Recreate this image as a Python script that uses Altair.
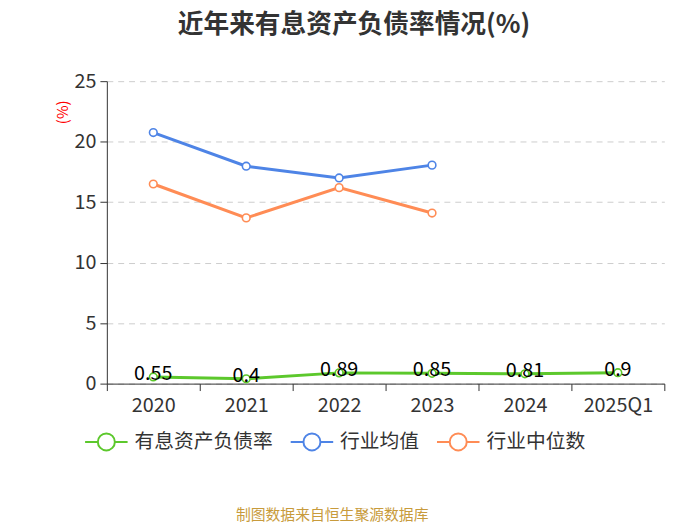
import altair as alt
import pandas as pd

years = ["2020", "2021", "2022", "2023", "2024", "2025Q1"]
ratio = [0.55, 0.4, 0.89, 0.85, 0.81, 0.9]
ind_mean_years = ["2020", "2021", "2022", "2023"]
ind_mean = [20.75, 17.97, 17.0, 18.06]
ind_median = [16.5, 13.7, 16.2, 14.1]
series_names = ["有息资产负债率", "行业均值", "行业中位数"]
colors = ["#5cc82c", "#4e84e6", "#ff8c55"]
y_ticks = [0, 5, 10, 15, 20, 25]

rows = []
for y, v in zip(years, ratio):
    rows.append({"year": y, "value": v, "series": series_names[0], "label": f"{v:g}"})
for y, v in zip(ind_mean_years, ind_mean):
    rows.append({"year": y, "value": v, "series": series_names[1], "label": ""})
for y, v in zip(ind_mean_years, ind_median):
    rows.append({"year": y, "value": v, "series": series_names[2], "label": ""})
df = pd.DataFrame(rows)

FONT = "Noto Sans CJK SC"
W, H = 564, 306

sym = "M-1,0H-0.4M0.4,0H1M0.4,0A0.4,0.4 0 1,1 -0.4,0A0.4,0.4 0 1,1 0.4,0Z"
cscale = alt.Scale(domain=series_names, range=colors)
legend = alt.Legend(title=None, orient="none", legendX=-23, legendY=342,
                    direction="horizontal", symbolType=sym, symbolSize=1849,
                    symbolFillColor="white", symbolStrokeWidth=2,
                    labelFontSize=20, labelColor="#333333", labelFont=FONT,
                    columnPadding=14, labelOffset=6, symbolOpacity=1)

x_enc = alt.X("year:N", sort=years, scale=alt.Scale(domain=years, paddingInner=0, paddingOuter=0),
              axis=alt.Axis(title=None, labelFontSize=20, labelColor="#333333", labelFont=FONT,
                            domainColor="#333333", tickColor="#333333", tickSize=7,
                            labelPadding=5, tickBand="extent", grid=False, labelAngle=0))
y_enc = alt.Y("value:Q", scale=alt.Scale(domain=[0, 25], nice=False),
              axis=alt.Axis(values=y_ticks, title="(%)", titleColor="#ff0000", titleFontSize=15,
                            titleFont=FONT, titleFontWeight="normal", titleAngle=-90,
                            titleX=-45, titleY=31, titleAlign="center", titleBaseline="middle",
                            labelFontSize=20, labelColor="#333333", labelFont=FONT,
                            domainColor="#333333", tickColor="#333333", tickSize=7, labelPadding=4,
                            grid=True, gridDash=[6, 5], gridColor="#cccccc"))

lines = alt.Chart(df).mark_line(strokeWidth=3).encode(
    x=x_enc, y=y_enc, color=alt.Color("series:N", sort=series_names, scale=cscale, legend=legend))
points = alt.Chart(df).mark_point(filled=False, fill="white", fillOpacity=1, size=60,
                                  strokeWidth=1.6, opacity=1).encode(
    x=alt.X("year:N", sort=years), y="value:Q",
    color=alt.Color("series:N", sort=series_names, scale=cscale, legend=legend))
labels = alt.Chart(df).transform_filter(alt.datum.label != "").mark_text(
    fontSize=20, font=FONT, color="#000000", dy=-3).encode(
    x=alt.X("year:N", sort=years), y="value:Q", text="label:N")

source = alt.Chart(pd.DataFrame({"t": ["制图数据来自恒生聚源数据库"]})).mark_text(
    fontSize=15, font=FONT, color="#c89b3c").encode(
    text="t:N", x=alt.value(228), y=alt.value(439))

chart = alt.layer(lines, points, labels, source).properties(
    width=W, height=H,
    title=alt.Title("近年来有息资产负债率情况(%)", fontSize=26, font=FONT, fontWeight="bold",
                    color="#333333", anchor="middle", offset=34, dx=-32),
    autosize=alt.AutoSizeParams(type="none"),
    padding={"left": 100, "top": 71, "right": 28, "bottom": 140},
).configure_view(stroke=None).configure_axisY(domain=True)

chart.save("out.html", embed_options={"renderer": "svg", "actions": False})
